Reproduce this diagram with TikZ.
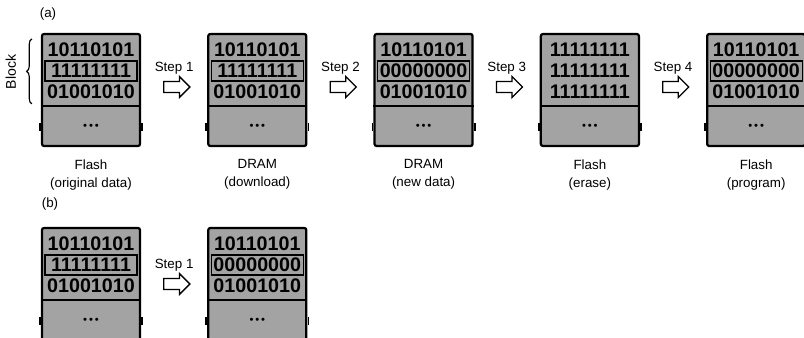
\documentclass[tikz,border=0pt]{standalone}
\usepackage{fontspec}
\setmainfont{Liberation Sans}
\usepackage{xcolor}
\definecolor{cellgray}{gray}{0.64}
\usepackage{tikz}
\usetikzlibrary{positioning, shapes.arrows, calc, decorations.pathreplacing}

\begin{document}
\begin{tikzpicture}[
        x=0.025cm, y=-0.025cm,
        node distance=1.65cm,
        mem/.style={draw, line width=1.6pt, rounded corners=1.5pt, fill=cellgray, minimum width=2.45cm, minimum height=2.8cm, inner sep=0pt},
        bits/.style={font=\fontsize{14}{14}\selectfont\bfseries, minimum width=2.3cm, minimum height=0.5cm, inner sep=0pt},
        bitsel/.style={bits, draw, line width=0.8pt},
        sep/.style={line width=1.6pt},
        dots/.style={font=\fontsize{8}{8}\selectfont, inner sep=0pt},
        nub/.style={line width=1.2pt},
        stepar/.style={single arrow, draw, line width=0.9pt, fill=white, minimum height=0.65cm, single arrow head extend=0.125cm, inner sep=0.12cm},
        steplbl/.style={font=\fontsize{9.5}{11}\selectfont, inner sep=0pt},
        caption/.style={font=\fontsize{9.5}{12.8}\selectfont, align=center, inner sep=0pt},
        panel/.style={font=\fontsize{9.5}{11}\selectfont, inner sep=0pt},
        brace/.style={decorate, decoration={brace, amplitude=0.13cm}, line width=0.8pt}
    ]
        \useasboundingbox (0,0) rectangle (804,337);

        % Panel (a)
        \node[panel] (pa) at (48,14) {(a)};

        % Memory blocks
        \node[mem] (a1) at (91,90) {};
        \node[mem, right=of a1] (a2) {};
        \node[mem, right=of a2] (a3) {};
        \node[mem, right=of a3] (a4) {};
        \node[mem, right=of a4] (a5) {};

        % Block contents
        \node[bits, below=0.175cm of a1.north] (a1r1) {10110101};
        \node[bitsel, below=0pt of a1r1] (a1r2) {11111111};
        \node[bits, below=0pt of a1r2] (a1r3) {01001010};

        \node[bits, below=0.175cm of a2.north] (a2r1) {10110101};
        \node[bitsel, below=0pt of a2r1] (a2r2) {11111111};
        \node[bits, below=0pt of a2r2] (a2r3) {01001010};

        \node[bits, below=0.175cm of a3.north] (a3r1) {10110101};
        \node[bitsel, below=0pt of a3r1] (a3r2) {00000000};
        \node[bits, below=0pt of a3r2] (a3r3) {01001010};

        \node[bits, below=0.175cm of a4.north] (a4r1) {11111111};
        \node[bits, below=0pt of a4r1] (a4r2) {11111111};
        \node[bits, below=0pt of a4r2] (a4r3) {11111111};

        \node[bits, below=0.175cm of a5.north] (a5r1) {10110101};
        \node[bitsel, below=0pt of a5r1] (a5r2) {00000000};
        \node[bits, below=0pt of a5r2] (a5r3) {01001010};

        % Lower part of each block
        \draw[sep] ($(a1.north west)+(0,73)$) -- ($(a1.north east)+(0,73)$);
        \draw[sep] ($(a2.north west)+(0,73)$) -- ($(a2.north east)+(0,73)$);
        \draw[sep] ($(a3.north west)+(0,73)$) -- ($(a3.north east)+(0,73)$);
        \draw[sep] ($(a4.north west)+(0,73)$) -- ($(a4.north east)+(0,73)$);
        \draw[sep] ($(a5.north west)+(0,73)$) -- ($(a5.north east)+(0,73)$);

        \node[dots] (a1d) at ($(a1.south)+(0,-20)$) {\textbullet\,\textbullet\,\textbullet};
        \node[dots] (a2d) at ($(a2.south)+(0,-20)$) {\textbullet\,\textbullet\,\textbullet};
        \node[dots] (a3d) at ($(a3.south)+(0,-20)$) {\textbullet\,\textbullet\,\textbullet};
        \node[dots] (a4d) at ($(a4.south)+(0,-20)$) {\textbullet\,\textbullet\,\textbullet};
        \node[dots] (a5d) at ($(a5.south)+(0,-20)$) {\textbullet\,\textbullet\,\textbullet};

        \draw[nub] ($(a1.south west)+(-1,-24)$) -- ++(0,8);
        \draw[nub] ($(a1.south east)+(1,-24)$) -- ++(0,8);
        \draw[nub] ($(a2.south west)+(-1,-24)$) -- ++(0,8);
        \draw[nub] ($(a2.south east)+(1,-24)$) -- ++(0,8);
        \draw[nub] ($(a3.south west)+(-1,-24)$) -- ++(0,8);
        \draw[nub] ($(a3.south east)+(1,-24)$) -- ++(0,8);
        \draw[nub] ($(a4.south west)+(-1,-24)$) -- ++(0,8);
        \draw[nub] ($(a4.south east)+(1,-24)$) -- ++(0,8);
        \draw[nub] ($(a5.south west)+(-1,-24)$) -- ++(0,8);

        % Block brace
        \draw[brace] ($(a1.north west)+(-9,71)$) -- ($(a1.north west)+(-9,6)$);
        \node[panel, font=\fontsize{10}{12}\selectfont, rotate=90] (blk) at ($(a1.north west)+(-30,39)$) {Block};

        % Steps
        \node[stepar, yshift=0.075cm] (s1) at ($(a1.east)!0.5!(a2.west)$) {};
        \node[stepar, yshift=0.075cm] (s2) at ($(a2.east)!0.5!(a3.west)$) {};
        \node[stepar, yshift=0.075cm] (s3) at ($(a3.east)!0.5!(a4.west)$) {};
        \node[stepar, yshift=0.075cm] (s4) at ($(a4.east)!0.5!(a5.west)$) {};
        \node[steplbl, above=0.15cm of s1] (s1l) {Step 1};
        \node[steplbl, above=0.15cm of s2] (s2l) {Step 2};
        \node[steplbl, above=0.15cm of s3] (s3l) {Step 3};
        \node[steplbl, above=0.15cm of s4] (s4l) {Step 4};

        % Captions
        \node[caption, below=0.3cm of a1] (a1c) {Flash\\(original data)};
        \node[caption, below=0.3cm of a2] (a2c) {DRAM\\(download)};
        \node[caption, below=0.3cm of a3] (a3c) {DRAM\\(new data)};
        \node[caption, below=0.3cm of a4] (a4c) {Flash\\(erase)};
        \node[caption, below=0.3cm of a5] (a5c) {Flash\\(program)};

        % Panel (b)
        \node[panel] (pb) at (50,204) {(b)};

        \node[mem] (b1) at (91,284) {};
        \node[mem, right=of b1] (b2) {};

        \node[bits, below=0.175cm of b1.north] (b1r1) {10110101};
        \node[bitsel, below=0pt of b1r1] (b1r2) {11111111};
        \node[bits, below=0pt of b1r2] (b1r3) {01001010};

        \node[bits, below=0.175cm of b2.north] (b2r1) {10110101};
        \node[bitsel, below=0pt of b2r1] (b2r2) {00000000};
        \node[bits, below=0pt of b2r2] (b2r3) {01001010};

        \draw[sep] ($(b1.north west)+(0,73)$) -- ($(b1.north east)+(0,73)$);
        \draw[sep] ($(b2.north west)+(0,73)$) -- ($(b2.north east)+(0,73)$);
        \node[dots] (b1d) at ($(b1.south)+(0,-20)$) {\textbullet\,\textbullet\,\textbullet};
        \node[dots] (b2d) at ($(b2.south)+(0,-20)$) {\textbullet\,\textbullet\,\textbullet};
        \draw[nub] ($(b1.south west)+(-1,-24)$) -- ++(0,8);
        \draw[nub] ($(b1.south east)+(1,-24)$) -- ++(0,8);
        \draw[nub] ($(b2.south west)+(-1,-24)$) -- ++(0,8);
        \draw[nub] ($(b2.south east)+(1,-24)$) -- ++(0,8);

        \node[stepar] (t1) at ($(b1.east)!0.5!(b2.west)$) {};
        \node[steplbl, above=0.15cm of t1] (t1l) {Step 1};

    \end{tikzpicture}
\end{document}
